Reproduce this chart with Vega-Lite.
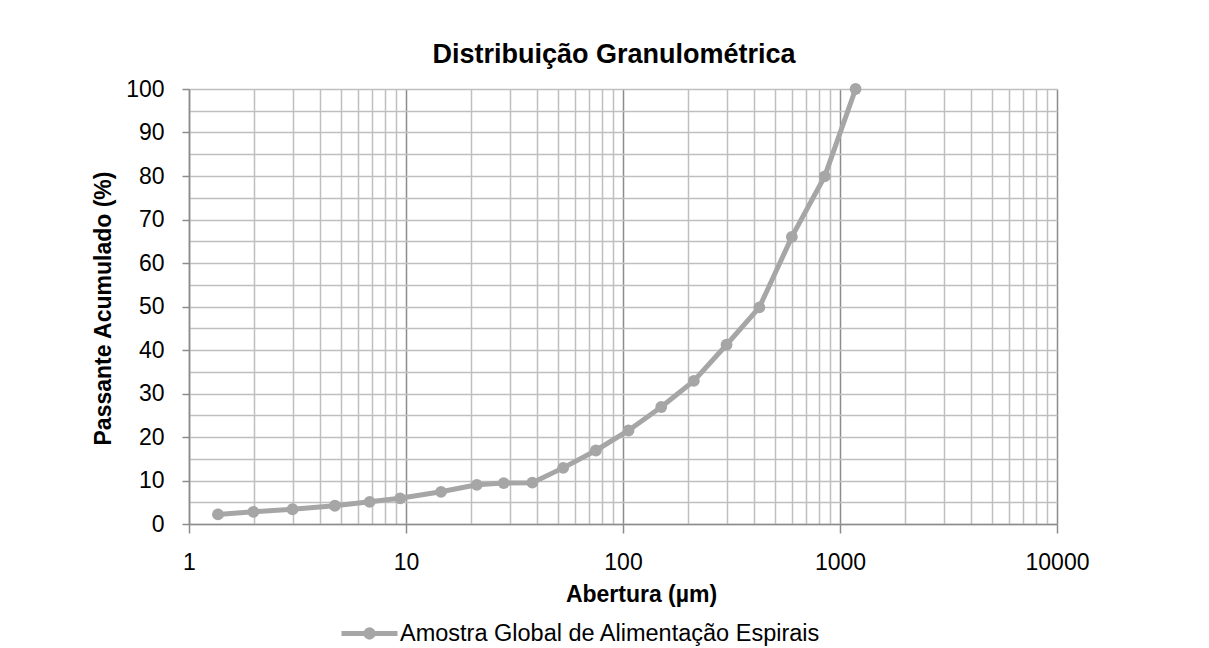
{
  "$schema": "https://vega.github.io/schema/vega-lite/v6.json",
  "width": 868,
  "height": 435,
  "autosize": {"type": "none"},
  "padding": {"left": 189, "top": 89, "right": 152, "bottom": 124},
  "background": "white",
  "config": {
    "font": "Liberation Sans",
    "view": {"stroke": null}
  },
  "title": {
    "text": "Distribuição Granulométrica",
    "font": "Liberation Sans",
    "fontSize": 27,
    "fontWeight": "bold",
    "color": "#000000",
    "anchor": "middle",
    "dx": -9,
    "offset": -12,
    "baseline": "alphabetic"
  },
  "data": {
    "values": [
      {"abertura": 1.36, "passante": 2.2, "serie": "Amostra Global de Alimentação Espirais"},
      {"abertura": 1.98, "passante": 2.8, "serie": "Amostra Global de Alimentação Espirais"},
      {"abertura": 3.0, "passante": 3.4, "serie": "Amostra Global de Alimentação Espirais"},
      {"abertura": 4.7, "passante": 4.2, "serie": "Amostra Global de Alimentação Espirais"},
      {"abertura": 6.8, "passante": 5.1, "serie": "Amostra Global de Alimentação Espirais"},
      {"abertura": 9.4, "passante": 5.9, "serie": "Amostra Global de Alimentação Espirais"},
      {"abertura": 14.5, "passante": 7.4, "serie": "Amostra Global de Alimentação Espirais"},
      {"abertura": 21.2, "passante": 9.0, "serie": "Amostra Global de Alimentação Espirais"},
      {"abertura": 28.2, "passante": 9.4, "serie": "Amostra Global de Alimentação Espirais"},
      {"abertura": 38.2, "passante": 9.5, "serie": "Amostra Global de Alimentação Espirais"},
      {"abertura": 53, "passante": 12.9, "serie": "Amostra Global de Alimentação Espirais"},
      {"abertura": 75, "passante": 16.9, "serie": "Amostra Global de Alimentação Espirais"},
      {"abertura": 106, "passante": 21.5, "serie": "Amostra Global de Alimentação Espirais"},
      {"abertura": 150, "passante": 26.9, "serie": "Amostra Global de Alimentação Espirais"},
      {"abertura": 212, "passante": 32.9, "serie": "Amostra Global de Alimentação Espirais"},
      {"abertura": 300, "passante": 41.2, "serie": "Amostra Global de Alimentação Espirais"},
      {"abertura": 425, "passante": 49.8, "serie": "Amostra Global de Alimentação Espirais"},
      {"abertura": 600, "passante": 66.0, "serie": "Amostra Global de Alimentação Espirais"},
      {"abertura": 850, "passante": 79.9, "serie": "Amostra Global de Alimentação Espirais"},
      {"abertura": 1180, "passante": 100, "serie": "Amostra Global de Alimentação Espirais"}
    ]
  },
  "mark": {
    "type": "line",
    "strokeWidth": 5,
    "point": {"filled": true, "size": 140, "color": "#a6a6a6"}
  },
  "encoding": {
    "x": {
      "field": "abertura",
      "type": "quantitative",
      "scale": {"type": "log", "domain": [1, 10000], "nice": false},
      "axis": {
        "title": "Abertura (µm)",
        "titleFont": "Liberation Sans",
        "titleFontSize": 23,
        "titleFontWeight": "bold",
        "titleColor": "#000000",
        "titleX": 452,
        "titleY": 77,
        "titleAlign": "center",
        "titleBaseline": "alphabetic",
        "values": [1,2,3,4,5,6,7,8,9,10,20,30,40,50,60,70,80,90,100,200,300,400,500,600,700,800,900,1000,2000,3000,4000,5000,6000,7000,8000,9000,10000],
        "labelExpr": "indexof([1,10,100,1000,10000], datum.value) >= 0 ? format(datum.value, 'd') : ''",
        "labelFontSize": 23,
        "labelColor": "#000000",
        "labelPadding": 18,
        "labelFlush": false,
        "labelOverlap": false,
        "tickSize": 9,
        "tickColor": "#8c8c8c",
        "tickWidth": 1.5,
        "tickOpacity": {"condition": {"test": "indexof([1,10,100,1000,10000], datum.value) >= 0", "value": 1}, "value": 0},
        "domainColor": "#8c8c8c",
        "domainWidth": 1.5,
        "grid": true,
        "gridColor": {"condition": {"test": "indexof([1,10,100,1000,10000], datum.value) >= 0", "value": "#8c8c8c"}, "value": "#bfbfbf"},
        "gridWidth": 1.5,
        "gridOpacity": 1
      }
    },
    "y": {
      "field": "passante",
      "type": "quantitative",
      "scale": {"domain": [0, 100], "nice": false},
      "axis": {
        "title": "Passante Acumulado (%)",
        "titleFont": "Liberation Sans",
        "titleFontSize": 23,
        "titleFontWeight": "bold",
        "titleColor": "#000000",
        "titleX": -86,
        "titleY": 219,
        "titleAngle": -90,
        "titleAlign": "center",
        "titleBaseline": "middle",
        "values": [0,5,10,15,20,25,30,35,40,45,50,55,60,65,70,75,80,85,90,95,100],
        "labelExpr": "datum.value % 10 == 0 ? format(datum.value, 'd') : ''",
        "labelFontSize": 23,
        "labelColor": "#000000",
        "labelPadding": 18,
        "labelFlush": false,
        "labelOverlap": false,
        "tickSize": 7,
        "tickColor": "#8c8c8c",
        "tickWidth": 1.5,
        "tickOpacity": {"condition": {"test": "datum.value % 10 == 0", "value": 1}, "value": 0},
        "domainColor": "#8c8c8c",
        "domainWidth": 1.5,
        "grid": true,
        "gridColor": "#bfbfbf",
        "gridWidth": 1.5,
        "gridOpacity": 1
      }
    },
    "color": {
      "field": "serie",
      "type": "nominal",
      "scale": {"range": ["#a6a6a6"]},
      "legend": {
        "title": null,
        "orient": "none",
        "legendX": 150,
        "legendY": 514,
        "padding": 0,
        "symbolType": "M-1,0L1,0M0.13,0A0.13,0.13,0,1,1,-0.13,0A0.13,0.13,0,1,1,0.13,0Z",
        "symbolSize": 3136,
        "symbolStrokeWidth": 5,
        "symbolStrokeColor": "#a6a6a6",
        "symbolFillColor": "#a6a6a6",
        "labelFont": "Liberation Sans",
        "labelFontSize": 23.5,
        "labelColor": "#000000",
        "labelOffset": 0,
        "labelLimit": 1000
      }
    }
  }
}
